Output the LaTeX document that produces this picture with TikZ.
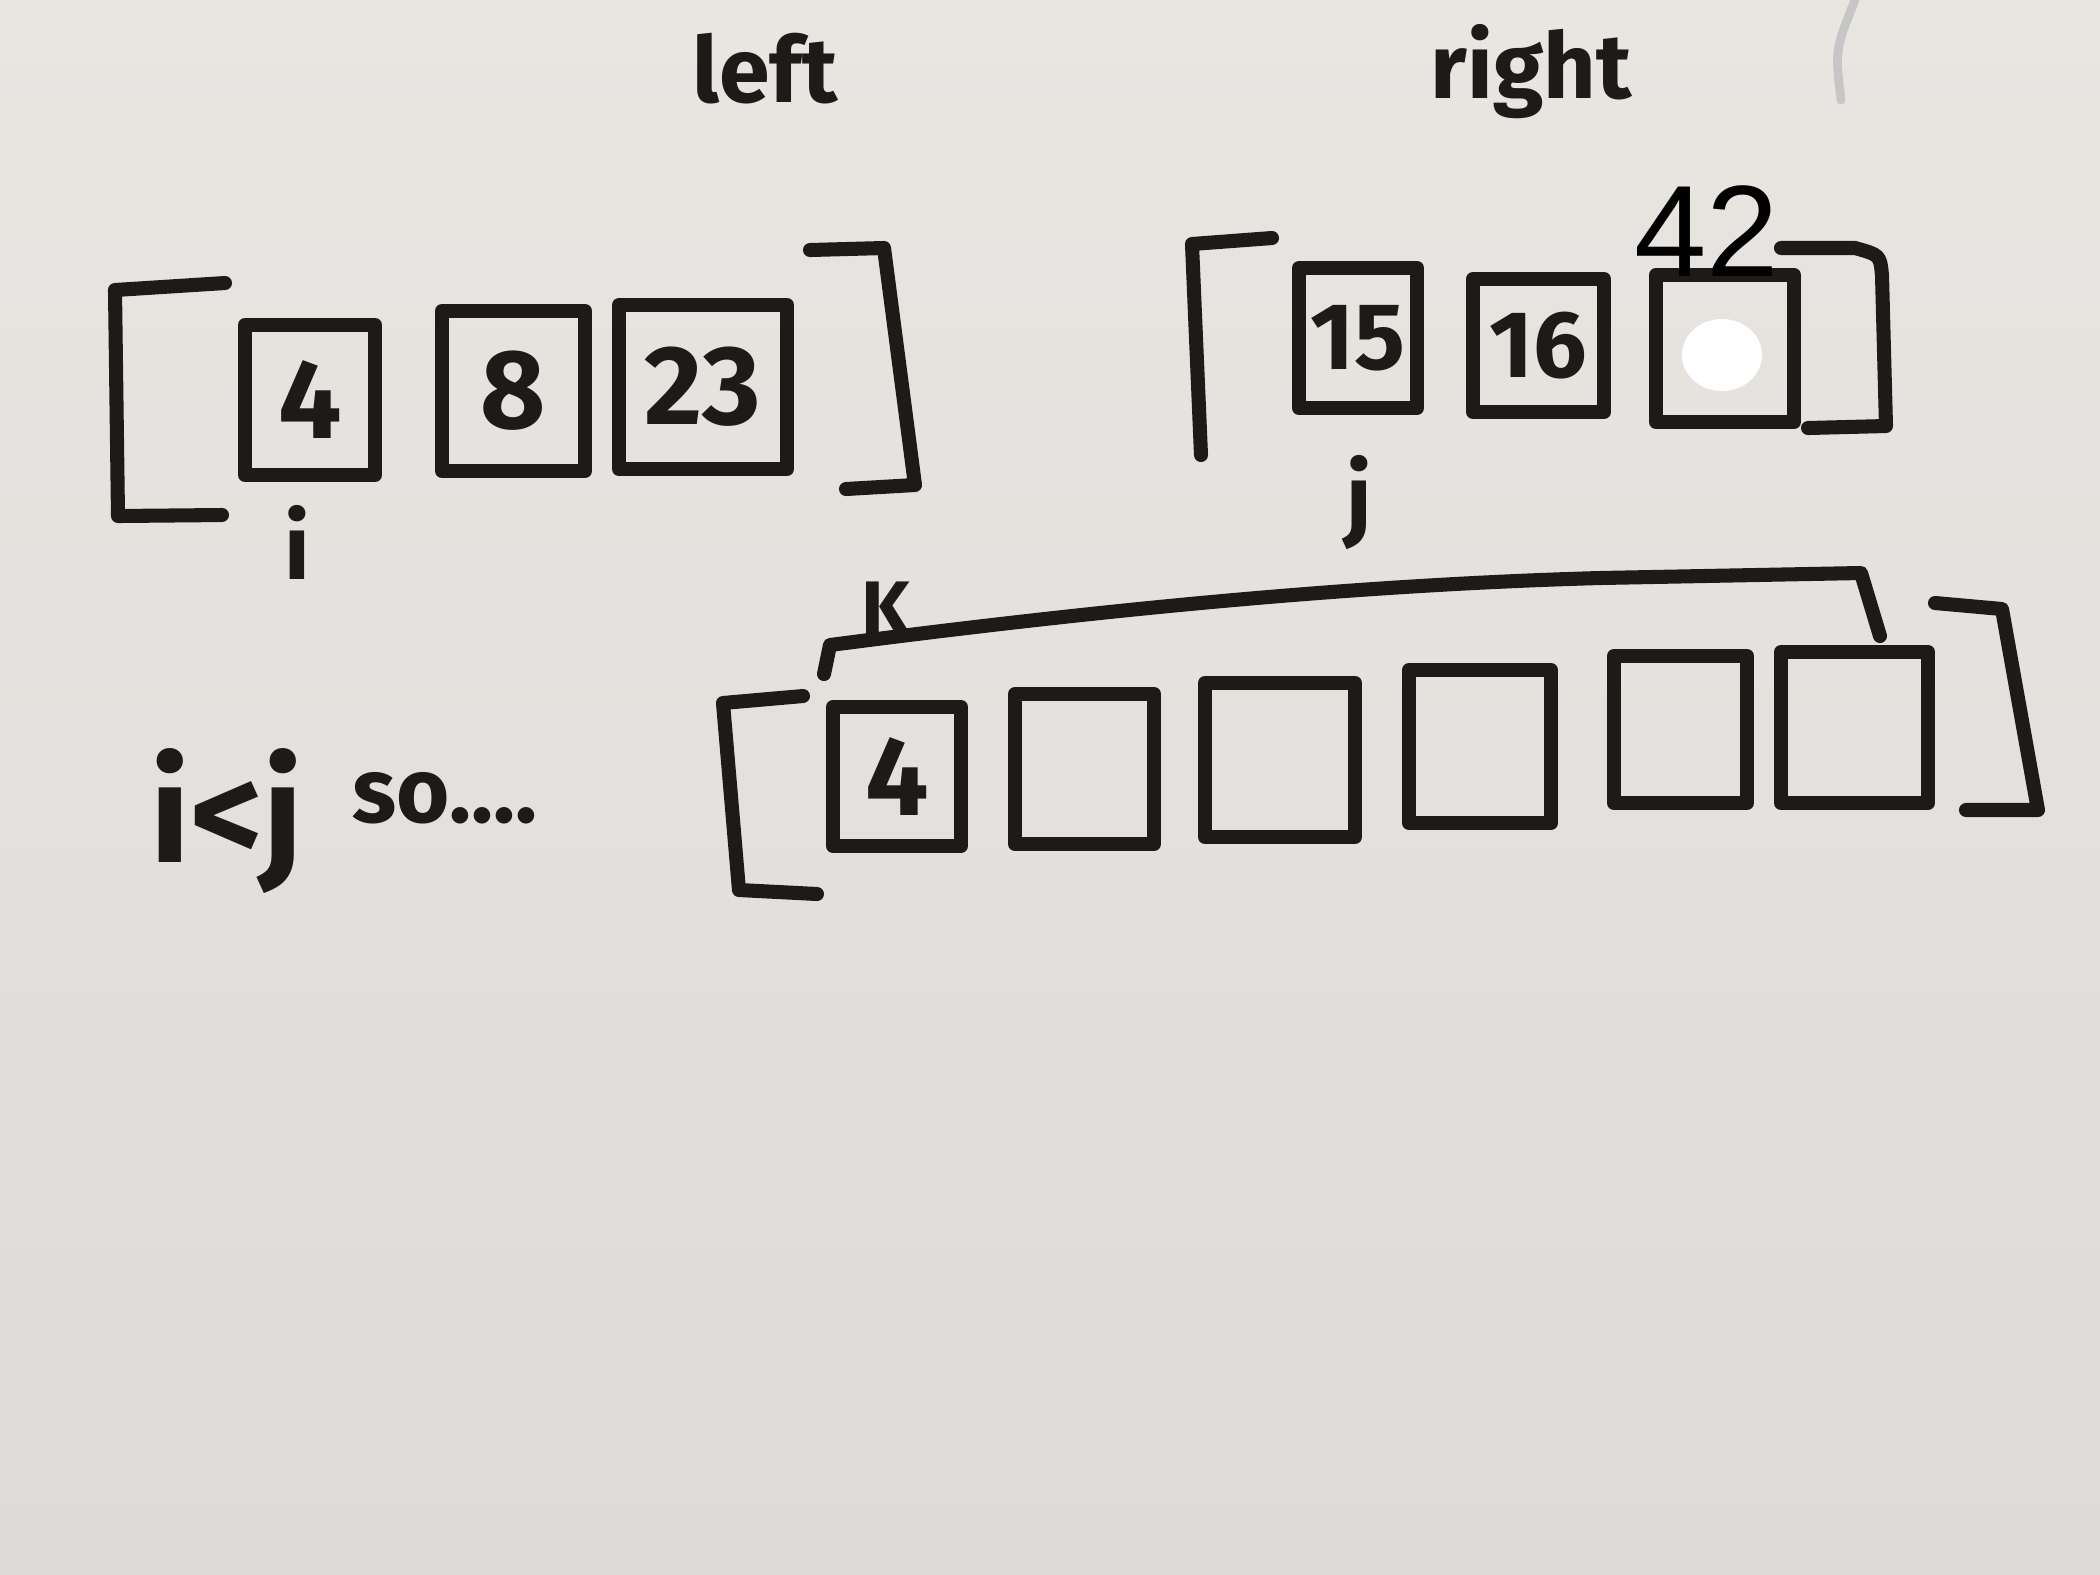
\documentclass[tikz,border=0pt]{standalone}
\usepackage{fontspec}
\setmainfont[Numbers=Lining]{Fira Sans}
\newfontfamily\numfont{Liberation Sans}
\definecolor{boardtop}{HTML}{E9E5E1}
\definecolor{boardbot}{HTML}{DDDBD9}
\definecolor{ink}{HTML}{1E1A18}
\tikzset{
  pen/.style={draw=ink, line width=4pt, line cap=round, line join=round},
  cell/.style={pen, rectangle, inner sep=0pt, text=ink, font=\bfseries\fontsize{32}{32}\selectfont},
  hand/.style={text=ink, inner sep=0pt, font=\bfseries\fontsize{#1}{#1}\selectfont},
  hand/.default=24
}
\begin{document}
\begin{tikzpicture}
\shade[top color=boardtop, bottom color=boardbot] (0,0) rectangle (21,-15.75);
\useasboundingbox (0,0) rectangle (21,-15.75);

% faint stroke top right
\draw[gray!45, line width=2.5pt, line cap=round] (18.55,0) .. controls (18.35,-0.5) .. (18.41,-1.0);

% headings
\node[hand=26, anchor=base] (left) at (7.65,-1.02) {left};
\node[hand=26, anchor=base] (right) at (15.31,-0.98) {right};

% ---------- left sub-array ----------
\draw[pen] (2.25,-2.83) -- (1.15,-2.90) -- (1.18,-5.16) -- (2.22,-5.15);
\draw[pen] (8.10,-2.50) -- (8.84,-2.48) -- (9.15,-4.85) -- (8.46,-4.89);
\node[cell, minimum width=1.30cm, minimum height=1.50cm] (a1) at (3.10,-4.00) {4};
\node[cell, minimum width=1.43cm, minimum height=1.60cm] (a2) at (5.135,-3.91) {8};
\node[cell, minimum width=1.68cm, minimum height=1.64cm] (a3) at (7.03,-3.87) {23};
\node[hand=26, anchor=north] (i) at (2.97,-5.05) {i};

% ---------- right sub-array ----------
\draw[pen] (12.72,-2.38) -- (11.92,-2.44) -- (12.01,-4.55);
\draw[pen] (17.81,-2.48) -- (18.55,-2.48) .. controls (18.80,-2.55) .. (18.82,-2.75) -- (18.86,-4.26) -- (18.08,-4.28);
\node[cell, minimum width=1.18cm, minimum height=1.40cm, font=\bfseries\fontsize{27}{27}\selectfont] (b1) at (13.58,-3.38) {15};
\node[cell, minimum width=1.31cm, minimum height=1.33cm, font=\bfseries\fontsize{27}{27}\selectfont] (b2) at (15.385,-3.455) {16};
\node[cell, minimum width=1.38cm, minimum height=1.47cm] (b3) at (17.25,-3.485) {};
\fill[white] (17.22,-3.55) ellipse (0.40cm and 0.36cm);
\node[inner sep=0pt, font=\numfont\fontsize{37}{37}\selectfont, text=black] (n42) at (17.07,-2.31) {42};
\node[hand=26, anchor=north] (j) at (13.59,-4.55) {j};

% ---------- merged array ----------
\draw[pen] (8.03,-6.96) -- (7.23,-7.03) -- (7.39,-8.90) -- (8.17,-8.94);
\draw[pen] (19.35,-6.03) -- (20.02,-6.09) -- (20.38,-8.10) -- (19.66,-8.10);
\node[cell, minimum width=1.28cm, minimum height=1.39cm] (c1) at (8.97,-7.765) {4};
\node[cell, minimum width=1.39cm, minimum height=1.50cm] (c2) at (10.845,-7.69) {};
\node[cell, minimum width=1.50cm, minimum height=1.54cm] (c3) at (12.80,-7.60) {};
\node[cell, minimum width=1.42cm, minimum height=1.53cm] (c4) at (14.80,-7.465) {};
\node[cell, minimum width=1.33cm, minimum height=1.47cm] (c5) at (16.805,-7.295) {};
\node[cell, minimum width=1.47cm, minimum height=1.51cm] (c6) at (18.545,-7.275) {};

% k brace
\draw[pen] (8.24,-6.74) -- (8.30,-6.45) .. controls (11.0,-6.10) and (13.5,-5.85) .. (16.0,-5.78) -- (18.61,-5.73) -- (18.80,-6.36);
\node[hand=22] (k) at (8.86,-6.09) {K};

% condition
\node[hand=40, anchor=base west] (cond) at (1.50,-8.62) {i<j};
\node[hand=26, anchor=base west] (so) at (3.52,-8.22) {so....};
\end{tikzpicture}
\end{document}
